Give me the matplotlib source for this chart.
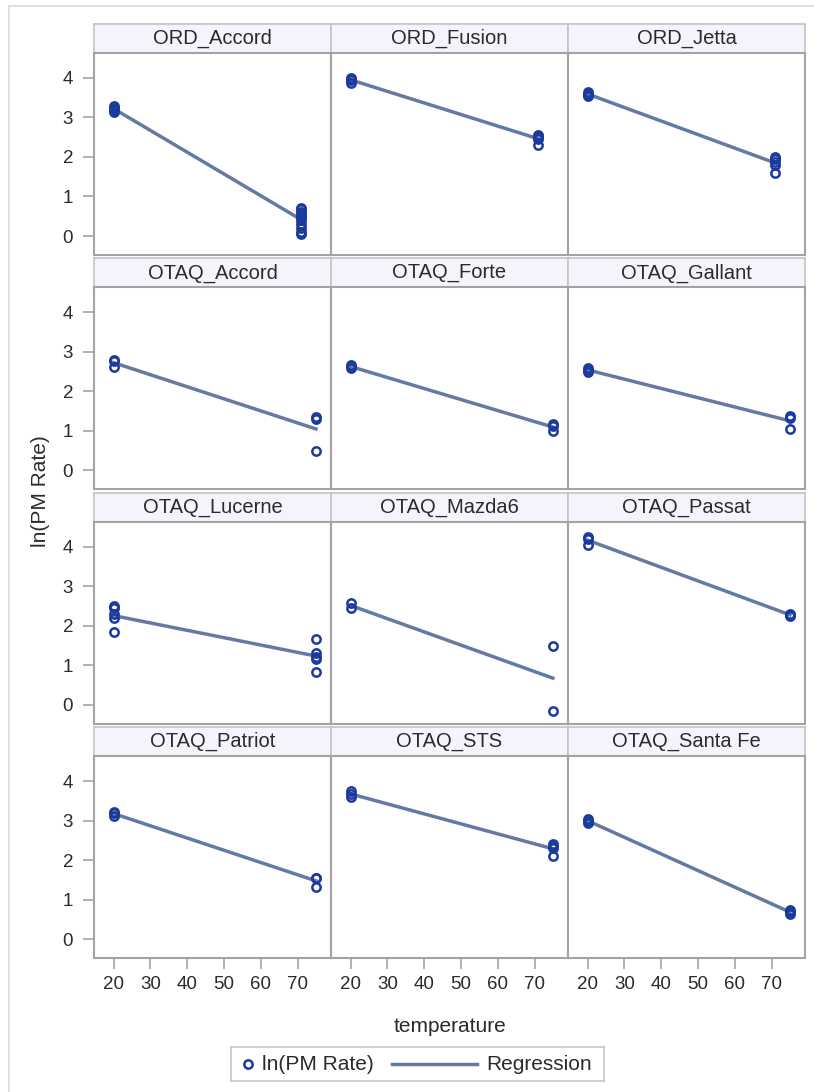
import numpy as np
import matplotlib.pyplot as plt
from matplotlib.patches import Rectangle

plt.rcParams['font.family'] = ['Liberation Sans', 'DejaVu Sans']

# panels in reading order
panels = ['ORD_Accord', 'ORD_Fusion', 'ORD_Jetta',
          'OTAQ_Accord', 'OTAQ_Forte', 'OTAQ_Gallant',
          'OTAQ_Lucerne', 'OTAQ_Mazda6', 'OTAQ_Passat',
          'OTAQ_Patriot', 'OTAQ_STS', 'OTAQ_Santa Fe']

# cold / warm test temperatures per panel
temp_cold = [20, 20, 20, 20, 20, 20, 20, 20, 20, 20, 20, 20]
temp_warm = [71, 71, 71, 75, 75, 75, 75, 75, 75, 75, 75, 75]

# ln(PM Rate) at the cold temperature
ln_cold = [
    [3.15, 3.2, 3.25, 3.3, 3.22],
    [3.88, 3.95, 4.0, 3.98],
    [3.55, 3.6, 3.65, 3.58],
    [2.62, 2.77, 2.79],
    [2.6, 2.63, 2.66],
    [2.5, 2.55, 2.58],
    [2.49, 2.45, 2.2, 1.85, 2.3],
    [2.58, 2.45],
    [4.25, 4.05, 4.2],
    [3.2, 3.12, 3.22],
    [3.75, 3.68, 3.6],
    [3.05, 2.95, 3.0],
]

# ln(PM Rate) at the warm temperature
ln_warm = [
    [0.72, 0.68, 0.6, 0.55, 0.5, 0.45, 0.4, 0.3, 0.2, 0.1, 0.05],
    [2.55, 2.52, 2.48, 2.45, 2.3],
    [2.0, 1.96, 1.88, 1.8, 1.6],
    [1.3, 1.35, 0.5],
    [1.17, 1.12, 1.0],
    [1.38, 1.33, 1.05],
    [1.66, 1.3, 1.17, 0.84, 1.2],
    [1.5, -0.15],
    [2.25, 2.3, 2.28],
    [1.56, 1.55, 1.32],
    [2.4, 2.35, 2.3, 2.1],
    [0.75, 0.68, 0.63],
]

W, H = 814, 1092
mark_col = '#1b3a9e'
line_col = '#647aa3'
frame_col = '#a3a3a3'
txt_col = '#2b2b2b'

fig = plt.figure(figsize=(W / 100, H / 100), dpi=100)

# outer light border
fig.patches.append(Rectangle((8.5 / W, -0.1), 1.2, 1 - 5.5 / H + 0.1,
                             transform=fig.transFigure, fill=False,
                             edgecolor='#d9d9d9', lw=1.2))

col_w = 237
row_pitch = 234.4
hdr_h = 29
plot_h = 202

for i, name in enumerate(panels):
    r, c = divmod(i, 3)
    x0 = 94 + col_w * c
    hdr_top = 24 + row_pitch * r
    plot_top = hdr_top + hdr_h

    hdr = fig.add_axes([x0 / W, 1 - (hdr_top + hdr_h) / H, col_w / W, hdr_h / H])
    hdr.set_facecolor('#f4f5fc')
    hdr.set_xticks([])
    hdr.set_yticks([])
    for s in hdr.spines.values():
        s.set_color('#c4c4c4')
        s.set_linewidth(1.2)
    hdr.text(0.5, 0.5, name, ha='center', va='center', fontsize=14.5,
             color=txt_col, transform=hdr.transAxes)

    ax = fig.add_axes([x0 / W, 1 - (plot_top + plot_h) / H, col_w / W, plot_h / H])
    x = np.array([temp_cold[i]] * len(ln_cold[i]) + [temp_warm[i]] * len(ln_warm[i]))
    y = np.array(ln_cold[i] + ln_warm[i])
    slope, icpt = np.polyfit(x, y, 1)
    xs = np.array([x.min(), x.max()])
    ax.plot(xs, icpt + slope * xs, color=line_col, lw=2.5, zorder=2)
    ax.plot(x, y, 'o', mfc='none', mec=mark_col, ms=6, mew=1.8, zorder=3,
            clip_on=False)

    ax.set_xlim(14.7, 79.1)
    ax.set_ylim(-0.48, 4.63)
    ax.set_xticks([20, 30, 40, 50, 60, 70])
    ax.set_yticks([0, 1, 2, 3, 4])
    for s in ax.spines.values():
        s.set_color(frame_col)
        s.set_linewidth(1.5)
    ax.tick_params(length=8, width=1.2, color=frame_col, labelsize=13.5,
                   labelcolor=txt_col)
    ax.tick_params(axis='y', pad=7)
    ax.tick_params(axis='x', pad=5)
    if c != 0:
        ax.tick_params(axis='y', left=False, labelleft=False)
    if r != 3:
        ax.tick_params(axis='x', bottom=False, labelbottom=False)

fig.text(40 / W, 1 - 491 / H, 'ln(PM Rate)', rotation=90, ha='center',
         va='center', fontsize=15, color=txt_col)
fig.text(449.5 / W, 1 - 1026 / H, 'temperature', ha='center', va='center',
         fontsize=15, color=txt_col)

# legend box, laid out by hand (pixel units inside the box)
lx0, lx1, ly0, ly1 = 231, 604, 1047, 1081
lg = fig.add_axes([lx0 / W, 1 - ly1 / H, (lx1 - lx0) / W, (ly1 - ly0) / H])
lg.set_xlim(lx0, lx1)
lg.set_ylim(ly1, ly0)
lg.set_xticks([])
lg.set_yticks([])
for s in lg.spines.values():
    s.set_color('#c8c8c8')
    s.set_linewidth(1.2)
ymid = (ly0 + ly1) / 2
lg.plot([248], [ymid], 'o', mfc='none', mec=mark_col, ms=6, mew=1.8)
lg.text(262, ymid, 'ln(PM Rate)', ha='left', va='center', fontsize=15,
        color=txt_col)
lg.plot([392, 477], [ymid, ymid], color=line_col, lw=2.5)
lg.text(486, ymid, 'Regression', ha='left', va='center', fontsize=15,
        color=txt_col)

fig.savefig('out.png', dpi=100)
